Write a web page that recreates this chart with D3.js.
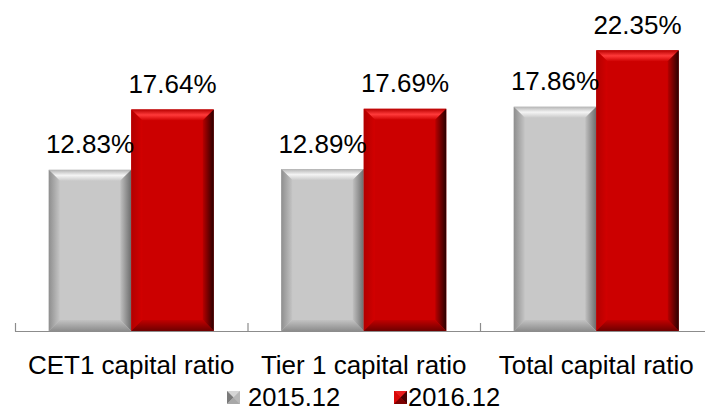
<!DOCTYPE html>
<html>
<head>
<meta charset="utf-8">
<script src="https://cdn.jsdelivr.net/npm/d3@7"></script>
<style>
  html, body { margin: 0; padding: 0; background: #ffffff; }
  svg { display: block; font-family: "Liberation Sans", Arial, sans-serif; }
</style>
</head>
<body>
<svg id="chart" width="705" height="411"></svg>
<script>
// Capital adequacy ratios, year-end 2015 vs 2016 (%)
const categories = ["CET1 capital ratio", "Tier 1 capital ratio", "Total capital ratio"];
const seriesNames = ["2015.12", "2016.12"];
const values2015 = [12.83, 12.89, 17.86];
const values2016 = [17.64, 17.69, 22.35];

const svg = d3.select("#chart");

// Plot area (the third category band runs slightly past the right edge)
const plotLeft = 15, plotRight = 712.5;
const baseY = 331, topY = 17;

const x0 = d3.scaleBand().domain(categories).range([plotLeft, plotRight]).padding(0);
const x1 = d3.scaleBand().domain(seriesNames).range([0, x0.bandwidth()])
  .paddingInner(0).paddingOuter(0.409);
const y = d3.scaleLinear().domain([0, 25]).range([baseY, topY]);

// Bevel palettes per series
const palettes = {
  "2015.12": {
    main: "#c8c8c8",
    top: ["#b4b4b4", "#f4f4f4", "#cacaca"],
    left: ["#8e8e8e", "#c4c4c4"],
    right: ["#c0c0c0", "#6c6c6c"],
    bottom: ["#c2c2c2", "#8c8c8c"],
    mark: { top: "#d6d6d6", left: "#7a7a7a", right: "#b8b8b8", bottom: "#a8a8a8" }
  },
  "2016.12": {
    main: "#cc0000",
    top: ["#b80000", "#ff3a3a", "#cf0202"],
    left: ["#b20000", "#d20000"],
    right: ["#b80000", "#2a0000"],
    bottom: ["#c00000", "#6e0000"],
    mark: { top: "#e81c1c", left: "#d80808", right: "#4a0000", bottom: "#7a0000" }
  }
};

const defs = svg.append("defs");
function linGrad(id, stops, x1v, y1v, x2v, y2v) {
  const g = defs.append("linearGradient").attr("id", id)
    .attr("x1", x1v).attr("y1", y1v).attr("x2", x2v).attr("y2", y2v);
  stops.forEach((c, i) => {
    g.append("stop").attr("offset", i / (stops.length - 1)).attr("stop-color", c);
  });
}
seriesNames.forEach((s, i) => {
  const p = palettes[s];
  linGrad("top" + i, p.top, 0, 0, 0, 1);
  linGrad("left" + i, p.left, 0, 0, 1, 0);
  linGrad("right" + i, p.right, 0, 0, 1, 0);
  linGrad("bottom" + i, p.bottom, 0, 0, 0, 1);
});

// Axis line with category-boundary ticks
const axisG = svg.append("g");
axisG.append("line")
  .attr("x1", plotLeft).attr("x2", plotRight)
  .attr("y1", baseY + 0.5).attr("y2", baseY + 0.5)
  .attr("stroke", "#8c8c8c").attr("stroke-width", 1.2);
const boundaries = categories.map(c => x0(c)).concat([plotRight]);
axisG.selectAll("line.tick").data(boundaries).join("line")
  .attr("class", "tick")
  .attr("x1", d => d + 0.5).attr("x2", d => d + 0.5)
  .attr("y1", baseY - 8).attr("y2", baseY + 0.5)
  .attr("stroke", "#8c8c8c").attr("stroke-width", 1.2);

// Bars with bevelled edges
const rows = [];
categories.forEach((c, ci) => {
  rows.push({ cat: c, series: seriesNames[0], si: 0, value: values2015[ci] });
  rows.push({ cat: c, series: seriesNames[1], si: 1, value: values2016[ci] });
});

const bev = 11;
const barG = svg.append("g");
rows.forEach(d => {
  const bx = x0(d.cat) + x1(d.series);
  const bw = x1.bandwidth();
  const by = y(d.value);
  const bh = baseY - by;
  const g = barG.append("g");
  g.append("rect").attr("x", bx).attr("y", by).attr("width", bw).attr("height", bh)
    .attr("fill", palettes[d.series].main);
  const L = bx, R = bx + bw, T = by, B = baseY;
  const poly = (pts, fill) => g.append("polygon")
    .attr("points", pts.map(p => p.join(",")).join(" "))
    .attr("fill", fill);
  poly([[L, T], [R, T], [R - bev, T + bev], [L + bev, T + bev]], `url(#top${d.si})`);
  poly([[L, T], [L + bev, T + bev], [L + bev, B - bev], [L, B]], `url(#left${d.si})`);
  poly([[R, T], [R, B], [R - bev, B - bev], [R - bev, T + bev]], `url(#right${d.si})`);
  poly([[L, B], [L + bev, B - bev], [R - bev, B - bev], [R, B]], `url(#bottom${d.si})`);
});

// Value labels above each bar
svg.append("g").selectAll("text").data(rows).join("text")
  .attr("x", d => x0(d.cat) + x1(d.series) + x1.bandwidth() / 2)
  .attr("y", d => y(d.value) - 16.5)
  .attr("text-anchor", "middle")
  .attr("font-size", 26)
  .attr("fill", "#000")
  .text(d => d.value.toFixed(2) + "%");

// Category labels
svg.append("g").selectAll("text").data(categories).join("text")
  .attr("x", d => x0(d) + x0.bandwidth() / 2)
  .attr("y", 373.5)
  .attr("text-anchor", "middle")
  .attr("font-size", 26)
  .attr("fill", "#000")
  .text(d => d);

// Legend
const legendItems = [
  { name: seriesNames[0], mx: 227, tx: 248 },
  { name: seriesNames[1], mx: 394, tx: 408 }
];
const mk = 13, my = 391;
const legendG = svg.append("g");
legendItems.forEach(it => {
  const m = palettes[it.name].mark;
  const L = it.mx, R = it.mx + mk, T = my, B = my + mk;
  const cx = (L + R) / 2, cy = (T + B) / 2;
  const g = legendG.append("g");
  g.append("rect").attr("x", L).attr("y", T).attr("width", mk).attr("height", mk)
    .attr("fill", palettes[it.name].main);
  const tri = (pts, fill) => g.append("polygon")
    .attr("points", pts.map(q => q.join(",")).join(" ")).attr("fill", fill);
  tri([[L, T], [R, T], [cx, cy]], m.top);
  tri([[L, T], [cx, cy], [L, B]], m.left);
  tri([[R, T], [R, B], [cx, cy]], m.right);
  tri([[L, B], [cx, cy], [R, B]], m.bottom);
  legendG.append("text")
    .attr("x", it.tx).attr("y", 405.5)
    .attr("font-size", 25.5).attr("fill", "#000")
    .text(it.name);
});
</script>
</body>
</html>
